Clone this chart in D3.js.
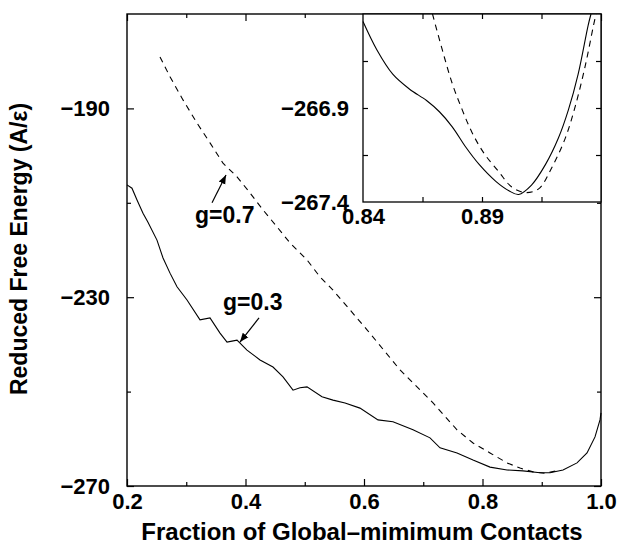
<!DOCTYPE html>
<html>
<head>
<meta charset="utf-8">
<script src="https://cdn.jsdelivr.net/npm/d3@7"></script>
<style>
  html, body { margin: 0; padding: 0; background: #fff; }
  text { font-family: "Liberation Sans", Arial, Helvetica, sans-serif; font-weight: bold; fill: #000; }
</style>
</head>
<body>
<div id="chart"></div>
<script>
// main plot: g=0.3 (solid), g=0.7 (dashed)
var solidX = [0.200, 0.2084, 0.2169, 0.227, 0.2354, 0.2506, 0.2608, 0.2726, 0.2844, 0.3013,
  0.3232, 0.3401, 0.357, 0.3688, 0.3772, 0.3857, 0.4025, 0.4245, 0.4464, 0.4633,
  0.4802, 0.492, 0.5038, 0.5291, 0.5477, 0.568, 0.5932, 0.6236, 0.6489, 0.6827,
  0.7114, 0.7283, 0.757, 0.784, 0.8127, 0.8414, 0.8684, 0.897, 0.9139, 0.9359,
  0.9595, 0.9764, 0.9899, 0.9983, 1.000];
var solidY = [-206.2, -206.9, -209.4, -212.2, -214.1, -217.9, -221.7, -224.9, -227.8, -230.6,
  -234.8, -234.4, -237.6, -239.5, -239.3, -239.1, -241.2, -243.3, -244.8, -246.9,
  -249.7, -249.2, -249.0, -251.1, -251.8, -252.4, -253.5, -256.0, -256.4, -258.1,
  -259.8, -261.9, -263.0, -264.5, -266.0, -266.6, -266.8, -267.2, -267.2, -266.6,
  -265.1, -263.0, -259.6, -256.0, -254.5];

var dashX = [0.2557, 0.2726, 0.2945, 0.3181, 0.3401, 0.362, 0.3857, 0.4076, 0.4295, 0.4532,
  0.4751, 0.5038, 0.5257, 0.5477, 0.6051, 0.6608, 0.7165, 0.757, 0.784, 0.8127,
  0.8414, 0.8633, 0.8852, 0.905, 0.925];
var dashY = [-179.1, -183.3, -188.2, -193.1, -197.3, -201.6, -204.5, -207.9, -211.5, -215.1,
  -218.5, -222.1, -225.7, -228.5, -236.9, -245.4, -252.4, -258.1, -260.9, -263.0,
  -265.1, -266.2, -267.0, -267.3, -266.8];

// inset (zoom of the minimum)
var insetSolidX = [0.84, 0.8458, 0.8525, 0.8596, 0.8667, 0.8721, 0.8775, 0.8833, 0.8888, 0.8958,
  0.9013, 0.9054, 0.9108, 0.9167, 0.9221, 0.9263, 0.9304, 0.9346, 0.9358];
var insetSolidY = [-266.44, -266.59, -266.72, -266.80, -266.86, -266.92, -267.00, -267.11, -267.20, -267.29,
  -267.34, -267.36, -267.31, -267.20, -267.06, -266.91, -266.72, -266.46, -266.40];
var insetDashX = [0.8692, 0.8733, 0.8775, 0.8817, 0.8858, 0.8908, 0.8971, 0.9025, 0.9083, 0.9138,
  0.9192, 0.925, 0.9292, 0.9333, 0.9367, 0.9379];
var insetDashY = [-266.40, -266.59, -266.77, -266.91, -267.03, -267.14, -267.24, -267.32, -267.35, -267.33,
  -267.22, -267.06, -266.89, -266.68, -266.47, -266.40];

// ticks
var xMajor = [0.2, 0.4, 0.6, 0.8, 1.0];
var xMinor = [0.3, 0.5, 0.7, 0.9];
var yMajor = [-270, -230, -190];
var yMinor = [-250, -210];
var insetXMajor = [0.84, 0.89];
var insetXTicks = [0.865, 0.89, 0.915];
var insetYMajor = [-267.4, -266.9];
var insetYTicks = [-267.15, -266.9, -266.65];

// annotations (label anchor, arrow tail, arrow tip) in data units
var notes = [
  { text: 'g=0.7', lx: 0.3148, ly: -214.3, x1: 0.3435, y1: -210.0, x2: 0.3671, y2: -204.1 },
  { text: 'g=0.3', lx: 0.362, ly: -232.7, x1: 0.4228, y1: -234.4, x2: 0.3907, y2: -239.5 }
];

var W = 617, H = 548;
var svg = d3.select('#chart').append('svg').attr('width', W).attr('height', H);

var x = d3.scaleLinear().domain([0.2, 1.0]).range([127, 601]);
var y = d3.scaleLinear().domain([-270, -170]).range([486, 14]);

var zip = (a, b) => a.map((v, i) => [v, b[i]]);

//画刻度
function ticks(g, axis) {
    g.call(axis);
    g.select('.domain').remove();
    g.selectAll('line').attr('stroke', '#000').attr('stroke-width', 1.2);
    g.selectAll('text').attr('font-size', 22).attr('fill', '#000')
        .attr('font-family', '"Liberation Sans", Arial, sans-serif').attr('font-weight', 'bold');
}

var main = svg.append('g');
ticks(main.append('g').attr('transform', 'translate(0,486)'),
    d3.axisBottom(x).tickValues(xMajor).tickSize(-7).tickPadding(7).tickFormat(d3.format('.1f')));
ticks(main.append('g').attr('transform', 'translate(0,486)'),
    d3.axisBottom(x).tickValues(xMinor).tickSize(-4).tickFormat(''));
ticks(main.append('g').attr('transform', 'translate(0,14)'),
    d3.axisTop(x).tickValues(xMajor).tickSize(-7).tickFormat(''));
ticks(main.append('g').attr('transform', 'translate(0,14)'),
    d3.axisTop(x).tickValues(xMinor).tickSize(-4).tickFormat(''));
ticks(main.append('g').attr('transform', 'translate(127,0)'),
    d3.axisLeft(y).tickValues(yMajor).tickSize(-7).tickPadding(17).tickFormat(d3.format('d')));
ticks(main.append('g').attr('transform', 'translate(127,0)'),
    d3.axisLeft(y).tickValues(yMinor).tickSize(-4).tickFormat(''));
ticks(main.append('g').attr('transform', 'translate(601,0)'),
    d3.axisRight(y).tickValues(yMajor).tickSize(-7).tickFormat(''));
ticks(main.append('g').attr('transform', 'translate(601,0)'),
    d3.axisRight(y).tickValues(yMinor).tickSize(-4).tickFormat(''));

var line = d3.line().x(d => x(d[0])).y(d => y(d[1]));
main.append('path').attr('d', line(zip(solidX, solidY)))
    .attr('fill', 'none').attr('stroke', '#000').attr('stroke-width', 1.1);
main.append('path').attr('d', line(zip(dashX, dashY)))
    .attr('fill', 'none').attr('stroke', '#000').attr('stroke-width', 1.1)
    .attr('stroke-dasharray', '6,5');

main.append('rect').attr('x', 127).attr('y', 14).attr('width', 474).attr('height', 472)
    .attr('fill', 'none').attr('stroke', '#000').attr('stroke-width', 1.4);

// arrows
svg.append('defs').append('marker')
    .attr('id', 'arr').attr('viewBox', '0 0 10 10').attr('refX', 10).attr('refY', 5)
    .attr('markerWidth', 9).attr('markerHeight', 9).attr('markerUnits', 'userSpaceOnUse')
    .attr('orient', 'auto')
    .append('path').attr('d', 'M0,1 L10,5 L0,9 Z').attr('fill', '#000');

notes.forEach(n => {
    main.append('line')
        .attr('x1', x(n.x1)).attr('y1', y(n.y1)).attr('x2', x(n.x2)).attr('y2', y(n.y2))
        .attr('stroke', '#000').attr('stroke-width', 1.2).attr('marker-end', 'url(#arr)');
    main.append('text').attr('x', x(n.lx)).attr('y', y(n.ly))
        .attr('font-size', 23).text(n.text);
});

// 轴标题
svg.append('text').attr('x', 362).attr('y', 540).attr('text-anchor', 'middle')
    .attr('font-size', 24).text('Fraction of Global\u2013mimimum Contacts');
svg.append('text').attr('transform', 'translate(27,249) rotate(-90)').attr('text-anchor', 'middle')
    .attr('font-size', 23).text('Reduced Free Energy (A/\u03b5)');

// inset
var xi = d3.scaleLinear().domain([0.84, 0.94]).range([363, 601]);
var yi = d3.scaleLinear().domain([-267.4, -266.4]).range([202, 14]);
var inset = svg.append('g');
inset.append('rect').attr('x', 363).attr('y', 14).attr('width', 238).attr('height', 188)
    .attr('fill', '#fff');

ticks(inset.append('g').attr('transform', 'translate(0,202)'),
    d3.axisBottom(xi).tickValues(insetXMajor).tickSize(0).tickPadding(6).tickFormat(d3.format('.2f')));
ticks(inset.append('g').attr('transform', 'translate(0,202)'),
    d3.axisBottom(xi).tickValues(insetXTicks).tickSize(-5).tickFormat(''));
ticks(inset.append('g').attr('transform', 'translate(0,14)'),
    d3.axisTop(xi).tickValues(insetXTicks).tickSize(-5).tickFormat(''));
ticks(inset.append('g').attr('transform', 'translate(363,0)'),
    d3.axisLeft(yi).tickValues(insetYMajor).tickSize(0).tickPadding(14).tickFormat(d3.format('.1f')));
ticks(inset.append('g').attr('transform', 'translate(363,0)'),
    d3.axisLeft(yi).tickValues(insetYTicks).tickSize(-5).tickFormat(''));
ticks(inset.append('g').attr('transform', 'translate(601,0)'),
    d3.axisRight(yi).tickValues(insetYTicks).tickSize(-5).tickFormat(''));

var lineI = d3.line().x(d => xi(d[0])).y(d => yi(d[1])).curve(d3.curveCatmullRom);
inset.append('path').attr('d', lineI(zip(insetSolidX, insetSolidY)))
    .attr('fill', 'none').attr('stroke', '#000').attr('stroke-width', 1.1);
inset.append('path').attr('d', lineI(zip(insetDashX, insetDashY)))
    .attr('fill', 'none').attr('stroke', '#000').attr('stroke-width', 1.1)
    .attr('stroke-dasharray', '6,5');

inset.append('rect').attr('x', 363).attr('y', 14).attr('width', 238).attr('height', 188)
    .attr('fill', 'none').attr('stroke', '#000').attr('stroke-width', 1.3);
</script>
</body>
</html>
